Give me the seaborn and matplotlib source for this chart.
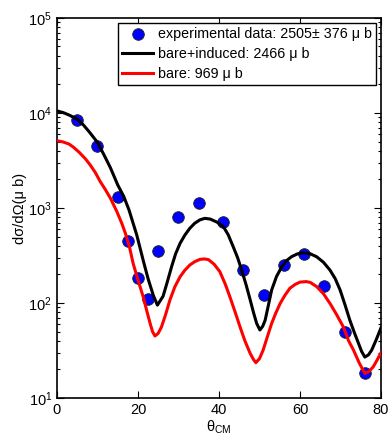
import numpy as np
import pandas as pd
import matplotlib
matplotlib.use('Agg')
import matplotlib.pyplot as plt
import seaborn as sns
from matplotlib.ticker import LogLocator, NullFormatter, MultipleLocator

# experimental points (theta_CM in deg, cross section in micro-barn)
exp_theta = [5, 10, 15, 17.5, 20, 22.5, 25, 30, 35, 41, 46, 51, 56, 61, 66, 71, 76]
exp_xs = [8500, 4500, 1300, 450, 182, 110, 352, 800, 1140, 706, 222, 121, 253, 326, 151, 50, 18.2]

# bare+induced calculation
full_theta = [0, 1.5, 3, 5, 6.5, 8, 10, 11.5, 13.2, 15, 16.5, 17.8, 19.7, 21.3, 22.5, 23.8,
              24.8, 26.2, 27.3, 28.3, 29.3, 30.4, 31.6, 32.8, 34, 35.3, 36.5, 37.8, 39.5,
              41.1, 42.3, 43.5, 44.6, 45.6, 46.7, 47.7, 48.5, 49.3, 50.1, 50.8, 51.4, 52.2,
              53, 54.2, 55.5, 56.7, 57.9, 59.3, 60.8, 62.5, 64.1, 65.8, 67.4, 68.7, 69.9,
              71.1, 72.3, 73.4, 74.4, 75.2, 76, 76.9, 77.7, 78.8, 80]
full_xs = [10500, 10100, 9500, 8600, 7500, 6300, 4900, 3700, 2650, 1750, 1320, 950, 520, 280, 180, 120,
           95, 118, 170, 241, 330, 425, 520, 611, 690, 750, 778, 765, 710,
           635, 520, 392, 300, 222, 155, 108, 80, 61, 52, 57, 66, 95,
           137, 190, 241, 280, 307, 328, 339, 330, 307, 268, 222, 180, 137,
           96, 66, 49, 38, 31, 27, 28.5, 32, 41, 55]

# bare calculation
bare_theta = [0, 1.5, 3, 4.1, 5.5, 7, 8.2, 9.5, 10.7, 12, 13.2, 14.8, 16, 16.9, 17.9, 18.8,
              20, 21.3, 22.2, 23, 23.6, 24.2, 25, 25.8, 26.8, 27.9, 29.1, 30.4, 31.6, 32.8,
              34, 35.3, 36.4, 37.4, 38.8, 40.2, 41.5, 42.7, 44, 45.2, 46.4, 47.7, 48.5, 49.1,
              50, 50.9, 52, 53, 54, 55.1, 56.3, 57.5, 58.8, 60, 61.5, 62.5, 64.1, 65.8, 67.4,
              69, 70.7, 72, 73.2, 74.6, 76, 77, 78.1, 79, 80]
bare_xs = [5100, 4950, 4700, 4350, 3850, 3300, 2840, 2350, 1890, 1550, 1265, 915, 690, 541, 390, 262,
           175, 116, 82, 61, 50, 45, 48, 56, 75, 108, 148, 189, 222, 251,
           272, 288, 291, 286, 256, 214, 160, 116, 80, 56, 40, 29.5, 25.5, 23.6,
           26, 32, 45, 61, 78, 99, 121, 143, 157, 166, 168, 165, 149, 125, 99,
           76, 56, 40, 32, 23.5, 18.2, 19, 21.4, 25, 30]

labels = ['experimental data: 2505\u00b1 376 \u03bc b',
          'bare+induced: 2466 \u03bc b',
          'bare: 969 \u03bc b']

plt.rcParams['font.family'] = ['Liberation Sans', 'DejaVu Sans']
plt.rcParams['mathtext.default'] = 'regular'

fig = plt.figure(figsize=(3.9, 4.36), dpi=100)
ax = fig.add_axes([0.146, 0.087, 0.831, 0.872])

sns.scatterplot(x=exp_theta, y=exp_xs, ax=ax, color='#0000ff', edgecolor='#222222',
                s=70, linewidth=0.6, zorder=2, label=labels[0])
sns.lineplot(x=full_theta, y=full_xs, ax=ax, color='black', linewidth=2.2, zorder=3,
             label=labels[1], sort=False)
sns.lineplot(x=bare_theta, y=bare_xs, ax=ax, color='#ff0000', linewidth=2.2, zorder=3,
             label=labels[2], sort=False)

ax.set_yscale('log')
ax.set_xlim(0, 80)
ax.set_ylim(10, 1e5)
ax.xaxis.set_major_locator(MultipleLocator(20))
ax.yaxis.set_major_locator(LogLocator(base=10, numticks=10))
ax.yaxis.set_minor_locator(LogLocator(base=10, subs=np.arange(2, 10), numticks=10))
ax.yaxis.set_minor_formatter(NullFormatter())
ax.tick_params(which='both', direction='in', top=True, right=True, labelsize=10.5, width=0.8)
ax.tick_params(which='major', length=5)
ax.tick_params(which='minor', length=2.5)
for s in ax.spines.values():
    s.set_linewidth(1.2)

ax.set_xlabel(r'$\theta_{CM}$', fontsize=10.5, labelpad=1)
ax.set_ylabel('d\u03c3/d\u03a9(\u03bc b)', fontsize=10.5, labelpad=1)

leg = ax.legend(loc='upper right', fontsize=10.3, frameon=True, fancybox=False,
                edgecolor='black', framealpha=1, borderpad=0.3, labelspacing=0.42,
                handlelength=2.2, handletextpad=0.3, borderaxespad=0.35)
leg.get_frame().set_linewidth(1.0)

fig.savefig('out.png', dpi=100)
